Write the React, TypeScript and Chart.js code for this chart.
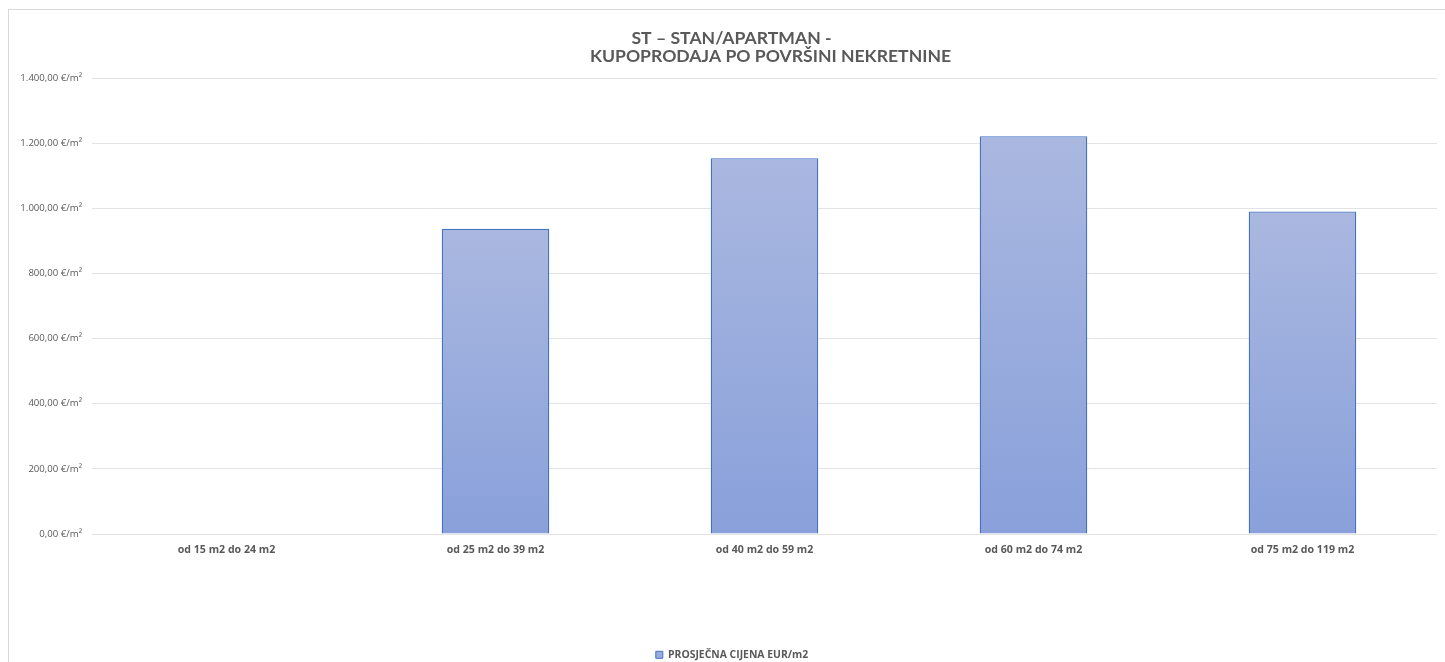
import React, { useEffect, useRef } from "react";
import { Chart, registerables } from "chart.js";

Chart.register(...registerables);

const categories = [
  "od 15 m2 do 24 m2",
  "od 25 m2 do 39 m2",
  "od 40 m2 do 59 m2",
  "od 60 m2 do 74 m2",
  "od 75 m2 do 119 m2",
];
const prices = [0, 937, 1154, 1221, 990];
const seriesName = "PROSJEČNA CIJENA EUR/m2";
const titleLines = ["ST – STAN/APARTMAN -", "KUPOPRODAJA PO POVRŠINI NEKRETNINE"];
const yTicks = [0, 200, 400, 600, 800, 1000, 1200, 1400];

const TITLE_FONT = "Lato, 'Open Sans', sans-serif";
const FONT = "'Open Sans', Lato, sans-serif";
const GRAY = "#595959";

function fmt(v: number): string {
  const fixed = v.toFixed(2);
  const [int, dec] = fixed.split(".");
  const withDots = int.replace(/\B(?=(\d{3})+(?!\d))/g, ".");
  return `${withDots},${dec} €/m²`;
}

const titlePlugin = {
  id: "twoLineTitle",
  afterLayout(chart: any) {
    const lg = chart.legend;
    if (lg) {
      lg.left += 9;
      lg.right += 9;
    }
  },
  afterDraw(chart: any) {
    const { ctx, chartArea } = chart;
    const cx = (chartArea.left + chartArea.right) / 2;
    ctx.save();
    ctx.fillStyle = GRAY;
    ctx.font = `bold 17.6px ${TITLE_FONT}`;
    ctx.textAlign = "center";
    ctx.textBaseline = "middle";
    ctx.fillText(titleLines[0], cx - 33, 28);
    ctx.fillText(titleLines[1], cx + 6, 46);
    ctx.restore();
  },
};

export default function App() {
  const ref = useRef<HTMLCanvasElement | null>(null);

  useEffect(() => {
    if (!ref.current) return;
    const chart = new Chart(ref.current, {
      type: "bar",
      data: {
        labels: categories,
        datasets: [
          {
            label: seriesName,
            data: prices,
            backgroundColor: (ctx: any) => {
              const c = ctx.chart;
              const area = c.chartArea;
              if (!area || ctx.raw === undefined) return "#99acdd";
              const yScale = c.scales.y;
              const top = yScale.getPixelForValue(ctx.raw);
              const bottom = yScale.getPixelForValue(0);
              if (!(bottom > top)) return "#99acdd";
              const g = c.ctx.createLinearGradient(0, top, 0, bottom);
              g.addColorStop(0, "#aab8e0");
              g.addColorStop(1, "#89a0da");
              return g;
            },
            borderColor: "#4472c4",
            borderWidth: 1.3,
            barPercentage: 0.4,
            categoryPercentage: 1,
          },
        ],
      },
      options: {
        animation: false,
        responsive: false,
        maintainAspectRatio: false,
        layout: { padding: { top: 68, right: 8, left: 0, bottom: -8 } },
        plugins: {
          title: { display: false },
          tooltip: { enabled: false },
          legend: {
            display: true,
            position: "bottom",
            labels: {
              color: GRAY,
              font: { family: FONT, size: 10.4, weight: "bold" },
              boxWidth: 7,
              boxHeight: 7,
              padding: 3,
              generateLabels: () => [
                {
                  text: seriesName,
                  fillStyle: "#9aadde",
                  strokeStyle: "#4472c4",
                  lineWidth: 1,
                  fontColor: GRAY,
                  datasetIndex: 0,
                } as any,
              ],
            },
          },
        },
        scales: {
          x: {
            grid: { display: false, drawTicks: false },
            border: { display: false },
            ticks: {
              color: GRAY,
              font: { family: FONT, size: 10.6, weight: "bold" },
              padding: 10,
              maxRotation: 0,
            },
            afterFit: (scale: any) => {
              const legendH = scale.chart.legend ? scale.chart.legend.height : 0;
              scale.height = 652 + 8 - 524 - legendH;
            },
          },
          y: {
            min: 0,
            max: 1400,
            afterBuildTicks: (scale: any) => {
              scale.ticks = yTicks.map((v) => ({ value: v }));
            },
            grid: { color: "#e3e3e3", lineWidth: 1, drawTicks: false },
            border: { display: false },
            ticks: {
              color: GRAY,
              font: { family: FONT, size: 9.6 },
              padding: 10,
              callback: (v: any) => fmt(Number(v)),
            },
            afterFit: (scale: any) => {
              scale.width = 83;
            },
          },
        },
      },
      plugins: [titlePlugin],
    });
    return () => chart.destroy();
  }, []);

  return (
    <div
      style={{
        position: "absolute",
        left: 8,
        top: 9,
        width: 1436,
        height: 652,
        borderLeft: "1px solid #d9d9d9",
        borderTop: "1px solid #d9d9d9",
        background: "#fff",
      }}
    >
      <canvas ref={ref} width={1436} height={652} style={{ display: "block" }} />
    </div>
  );
}
